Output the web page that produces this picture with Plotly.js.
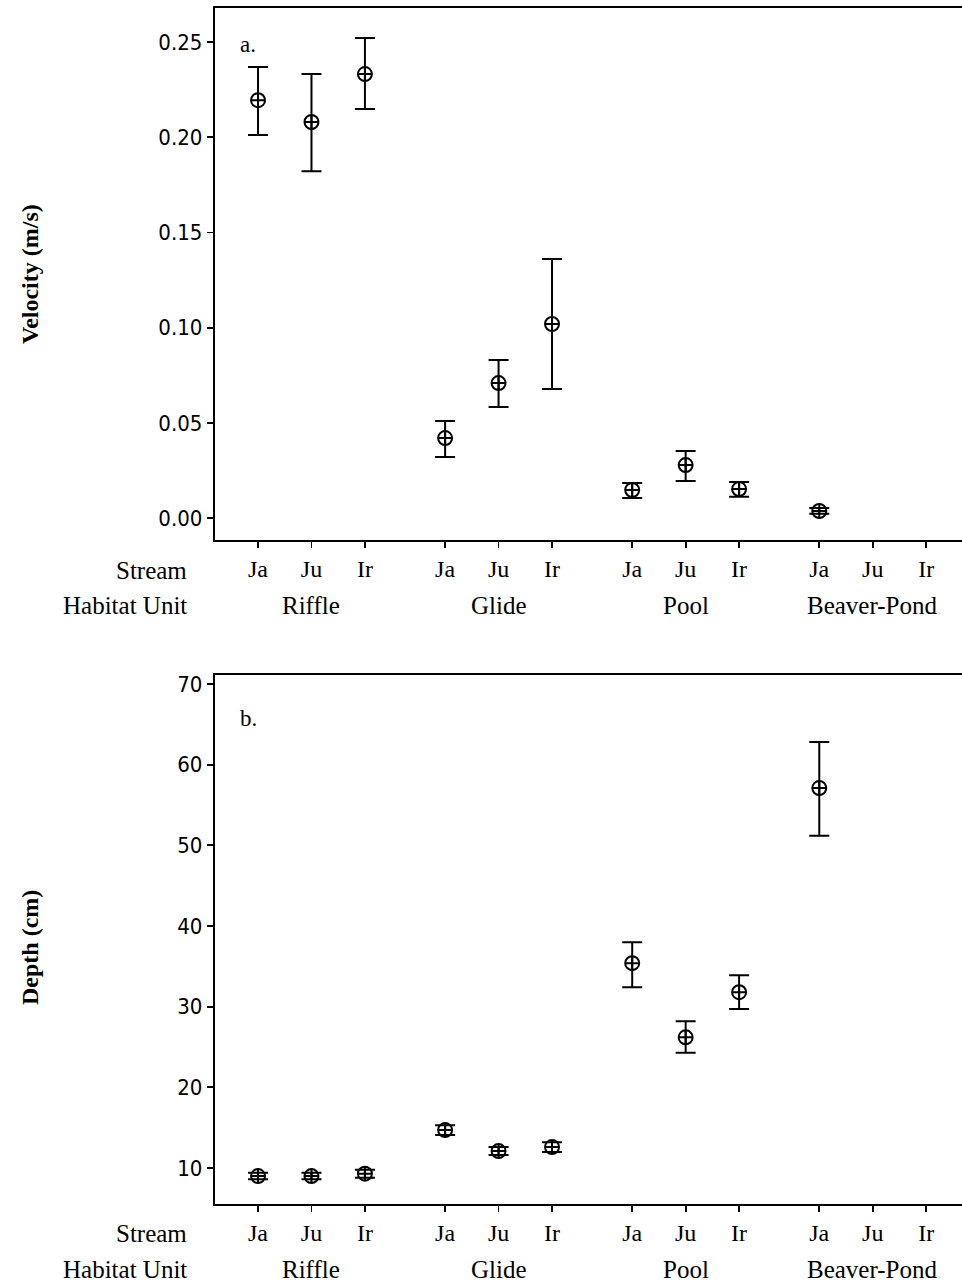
<!DOCTYPE html>
<html>
<head>
<meta charset="utf-8">
<script src="https://cdn.plot.ly/plotly-3.0.1.min.js"></script>
<style>
html,body{margin:0;padding:0;background:#fff;overflow:hidden;}
#chart{width:962px;height:1283px;}
</style>
</head>
<body>
<div id="chart"></div>
<script>
// ---- data ----
var habitats = ['Riffle', 'Glide', 'Pool', 'Beaver-Pond'];
var streams = ['Ja', 'Ju', 'Ir'];

// Velocity (m/s): order Riffle Ja,Ju,Ir | Glide Ja,Ju,Ir | Pool Ja,Ju,Ir | Beaver-Pond Ja,Ju,Ir
var velMean  = [0.2195, 0.208, 0.2332, 0.042, 0.0709, 0.1019, 0.0147, 0.0278, 0.0152, 0.0037, null, null];
var velUpper = [0.2369, 0.2332, 0.2521, 0.0510, 0.0830, 0.1360, 0.0184, 0.0352, 0.0189, 0.0053, null, null];
var velLower = [0.2012, 0.1822, 0.2148, 0.0320, 0.0583, 0.0678, 0.0105, 0.0194, 0.0112, 0.0022, null, null];

// Depth (cm)
var depMean  = [9.0, 9.0, 9.3, 14.7, 12.1, 12.6, 35.4, 26.2, 31.8, 57.1, null, null];
var depUpper = [9.4, 9.4, 9.8, 15.3, 12.6, 13.2, 38.0, 28.2, 33.9, 62.8, null, null];
var depLower = [8.6, 8.6, 8.8, 14.1, 11.6, 12.0, 32.4, 24.3, 29.7, 51.2, null, null];

var groupStep = 3.5; // spacing between habitat groups, in stream units

// ---- build positions ----
var xpos = [], xtext = [], habCenters = [];
habitats.forEach(function (h, hi) {
  streams.forEach(function (s, si) {
    xpos.push(hi * groupStep + si);
    xtext.push(s);
  });
  habCenters.push(hi * groupStep + 1);
});

function diff(a, b) { return a.map(function (v, i) { return (v == null || b[i] == null) ? null : v - b[i]; }); }

var serif = 'Liberation Serif, Times New Roman, serif';
var sansC = 'DejaVu Sans Condensed, Liberation Sans Narrow, Arial Narrow, sans-serif';

function trace(mean, upper, lower, xa, ya) {
  return {
    type: 'scatter', mode: 'markers', x: xpos, y: mean, xaxis: xa, yaxis: ya,
    marker: {symbol: 'circle-cross-open', size: 14, color: '#000', line: {width: 2, color: '#000'}},
    error_y: {type: 'data', symmetric: false, array: diff(upper, mean), arrayminus: diff(mean, lower),
              color: '#000', thickness: 2, width: 10},
    showlegend: false, hoverinfo: 'skip', cliponaxis: false
  };
}

var H = 1283, W = 962;
function py(px) { return 1 - px / H; }
function pxX(px) { return px / W; }

var xaxisBase = {
  range: [-0.805, 13.17], tickmode: 'array', tickvals: xpos, ticktext: xtext,
  ticks: 'outside', ticklen: 6, tickwidth: 1.8, tickcolor: '#000',
  showline: true, linecolor: '#000', linewidth: 2.2, mirror: true,
  showgrid: false, zeroline: false,
  tickfont: {family: serif, size: 24, color: '#000'}, domain: [pxX(215), 1]
};
var xaxis1 = JSON.parse(JSON.stringify(xaxisBase)); xaxis1.anchor = 'y';
var xaxis2 = JSON.parse(JSON.stringify(xaxisBase)); xaxis2.anchor = 'y2';

var annotations = [];
function addRowLabels(streamY, habY) {
  annotations.push({xref: 'paper', yref: 'paper', x: pxX(189), y: py(streamY), xanchor: 'right', yanchor: 'middle',
    text: 'Stream', showarrow: false, font: {family: serif, size: 25, color: '#000'}});
  annotations.push({xref: 'paper', yref: 'paper', x: pxX(189), y: py(habY), xanchor: 'right', yanchor: 'middle',
    text: 'Habitat Unit', showarrow: false, font: {family: serif, size: 25, color: '#000'}});
  habitats.forEach(function (h, i) {
    annotations.push({xref: 'x', yref: 'paper', x: habCenters[i], y: py(habY), xanchor: 'center', yanchor: 'middle',
      text: h, showarrow: false, font: {family: serif, size: 25, color: '#000'}});
  });
}
addRowLabels(570, 606);
addRowLabels(1233, 1269);

annotations.push({xref: 'paper', yref: 'paper', x: pxX(30), y: py(274), textangle: -90, xanchor: 'center', yanchor: 'middle',
  text: '<b>Velocity (m/s)</b>', showarrow: false, font: {family: serif, size: 24, color: '#000'}});
annotations.push({xref: 'paper', yref: 'paper', x: pxX(30), y: py(948), textangle: -90, xanchor: 'center', yanchor: 'middle',
  text: '<b>Depth (cm)</b>', showarrow: false, font: {family: serif, size: 24, color: '#000'}});
annotations.push({xref: 'paper', yref: 'paper', x: pxX(238), y: py(45), xanchor: 'left', yanchor: 'middle',
  text: 'a.', showarrow: false, font: {family: serif, size: 23, color: '#000'}});
annotations.push({xref: 'paper', yref: 'paper', x: pxX(238), y: py(718), xanchor: 'left', yanchor: 'middle',
  text: 'b.', showarrow: false, font: {family: serif, size: 23, color: '#000'}});

var yaxisBase = {
  ticks: 'outside', ticklen: 6, tickwidth: 1.8, tickcolor: '#000',
  showline: true, linecolor: '#000', linewidth: 2.2, mirror: false,
  showgrid: false, zeroline: false,
  tickfont: {family: sansC, size: 22, color: '#000'}
};
var yaxis1 = Object.assign({}, yaxisBase, {domain: [py(540), py(8)], range: [-0.01155, 0.2679],
  tickvals: [0, 0.05, 0.10, 0.15, 0.20, 0.25], ticktext: ['0.00','0.05','0.10','0.15','0.20','0.25'], tickmode: 'array', anchor: 'x'});
var yaxis2 = Object.assign({}, yaxisBase, {domain: [py(1204), py(675)], range: [5.54, 71.12],
  tickvals: [10, 20, 30, 40, 50, 60, 70], tickmode: 'array', anchor: 'x2'});

var layout = {
  width: W, height: H, margin: {l: 0, r: 0, t: 0, b: 0},
  paper_bgcolor: '#fff', plot_bgcolor: '#fff',
  xaxis: xaxis1, yaxis: yaxis1, xaxis2: xaxis2, yaxis2: yaxis2,
  annotations: annotations, showlegend: false
};

Plotly.newPlot('chart', [
  trace(velMean, velUpper, velLower, 'x', 'y'),
  trace(depMean, depUpper, depLower, 'x2', 'y2')
], layout, {staticPlot: true, displayModeBar: false});
</script>
</body>
</html>
